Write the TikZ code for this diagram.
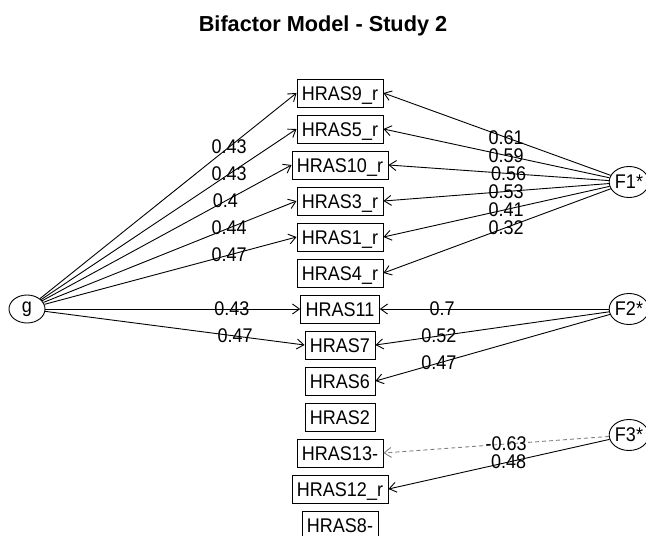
\documentclass[tikz,border=0pt]{standalone}
\usepackage{fontspec}
\setmainfont{Liberation Sans}
\usetikzlibrary{arrows.meta,calc,shapes.geometric}
\newcommand\talltext[1]{\scalebox{1}[1.1]{#1}}
\begin{document}
\begin{tikzpicture}[x=1pt,y=-1pt,
  every node/.style={font=\fontsize{18}{21}\selectfont},
  itembox/.style={draw,line width=0.9pt,inner xsep=5pt,inner ysep=0pt,minimum height=28pt,text height=14.2pt,text depth=0pt},
  latent/.style={draw,ellipse,line width=0.9pt,inner sep=0pt,minimum width=35pt,minimum height=31pt},
  lbl/.style={inner sep=0pt},
  load/.style={line width=0.9pt,-{Straight Barb[length=7pt,width=10pt]}},
  negload/.style={load,gray,dash pattern=on 4pt off 3pt}]
\fill[white] (0,0) rectangle (646,536);
\useasboundingbox (0,0) rectangle (646,536);

\node[font=\fontsize{21.7}{26}\selectfont\bfseries,anchor=base,inner sep=0pt] (title) at (323,31) {Bifactor Model - Study 2};

% observed items
\node[itembox] (h9)  at (340,93)  {\talltext{HRAS9\_r}};
\node[itembox] (h5)  at (340,129) {\talltext{HRAS5\_r}};
\node[itembox] (h10) at (340,165) {\talltext{HRAS10\_r}};
\node[itembox] (h3)  at (340,201) {\talltext{HRAS3\_r}};
\node[itembox] (h1)  at (340,237) {\talltext{HRAS1\_r}};
\node[itembox] (h4)  at (340,273) {\talltext{HRAS4\_r}};
\node[itembox] (h11) at (340,309) {\talltext{HRAS11}};
\node[itembox] (h7)  at (340,345) {\talltext{HRAS7}};
\node[itembox] (h6)  at (340,381) {\talltext{HRAS6}};
\node[itembox] (h2)  at (340,417) {\talltext{HRAS2}};
\node[itembox] (h13) at (340,453) {\talltext{HRAS13-}};
\node[itembox] (h12) at (340,489) {\talltext{HRAS12\_r}};
\node[itembox] (h8)  at (340,525) {\talltext{HRAS8-}};

% latent factors
\node[latent,minimum width=36pt,minimum height=28pt] (g) at (27,309) {\talltext{g}};
\node[latent] (f1) at (629,182) {\talltext{F1*}};
\node[latent] (f2) at (629,309) {\talltext{F2*}};
\node[latent] (f3) at (629,435) {\talltext{F3*}};

% general factor loadings
\foreach \t/\v in {h9/0.43,h5/0.43,h10/0.4,h3/0.44,h1/0.47,h11/0.43,h7/0.47}{
  \draw[load] (g) -- (\t.west);
  \node[lbl] at ($(g)!0.75!(\t.west)$) {\talltext{\v}};
}

% F1 loadings
\foreach \t/\v in {h9/0.61,h5/0.59,h10/0.56,h3/0.53,h1/0.41,h4/0.32}{
  \draw[load] (f1) -- (\t.east);
  \node[lbl] at ($(f1)!0.5!(\t.east)$) {\talltext{\v}};
}

% F2 loadings
\foreach \t/\v in {h11/0.7,h7/0.52,h6/0.47}{
  \draw[load] (f2) -- (\t.east);
  \node[lbl] at ($(f2)!0.75!(\t.east)$) {\talltext{\v}};
}

% F3 loadings
\draw[negload] (f3) -- (h13.east);
\node[lbl] at ($(f3)!0.5!(h13.east)$) {\talltext{-0.63}};
\draw[load] (f3) -- (h12.east);
\node[lbl] at ($(f3)!0.5!(h12.east)$) {\talltext{0.48}};
\end{tikzpicture}
\end{document}
